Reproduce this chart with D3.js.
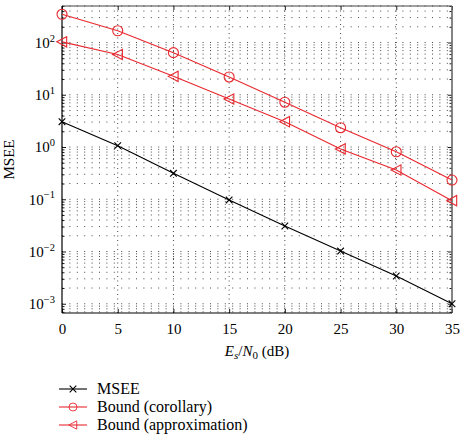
<!DOCTYPE html>
<html>
<head>
<meta charset="utf-8">
<script src="https://cdn.jsdelivr.net/npm/d3@7"></script>
<style>
  html, body { margin: 0; padding: 0; background: #fff; }
  svg { display: block; font-family: "Liberation Serif", "DejaVu Serif", serif; }
</style>
</head>
<body>
<svg id="chart" width="460" height="434"></svg>
<script>
// ---- data ----
const snrDb = [0, 5, 10, 15, 20, 25, 30, 35];
const mseeValues = [3.05, 1.06, 0.314, 0.097, 0.0308, 0.0102, 0.0034, 0.00100];
const corollaryValues = [347, 168, 64, 21.9, 7.2, 2.34, 0.81, 0.233];
const approxValues = [103, 59, 22.5, 8.3, 3.05, 0.92, 0.363, 0.094];
const xTickValues = [0, 5, 10, 15, 20, 25, 30, 35];
const yDecadeExponents = [-3, -2, -1, 0, 1, 2];
const yDomain = [6.65e-4, 500];
const seriesNames = ["MSEE", "Bound (corollary)", "Bound (approximation)"];

// ---- layout ----
const plot = { left: 62, right: 452, top: 6, bottom: 313 };
const svg = d3.select("#chart");
const x = d3.scaleLinear().domain([0, 35]).range([plot.left, plot.right]);
const y = d3.scaleLog().domain(yDomain).range([plot.bottom, plot.top]);

const RED = "#e8282e";

// ---- grid ----
const minorVals = [];
for (let e = -4; e <= 3; e++) for (let m = 1; m <= 9; m++) {
  const v = m * Math.pow(10, e);
  if (v >= yDomain[0] && v <= yDomain[1]) minorVals.push(v);
}
const grid = svg.append("g");
grid.selectAll("line.h").data(minorVals).join("line")
  .attr("x1", plot.left).attr("x2", plot.right)
  .attr("y1", d => y(d)).attr("y2", d => y(d))
  .attr("stroke", "#333").attr("stroke-width", 0.9)
  .attr("stroke-dasharray", "1 6.4");
grid.selectAll("line.v").data(xTickValues.filter(d => d > 0 && d < 35)).join("line")
  .attr("x1", d => x(d)).attr("x2", d => x(d))
  .attr("y1", plot.top).attr("y2", plot.bottom)
  .attr("stroke", "#333").attr("stroke-width", 0.9)
  .attr("stroke-dasharray", "1 3.5");

// ---- axes ----
const decadeVals = yDecadeExponents.map(e => Math.pow(10, e));
const minorOnly = minorVals.filter(v => !decadeVals.some(d => Math.abs(d - v) / d < 1e-9));

const xAxisB = svg.append("g").attr("transform", `translate(0,${plot.bottom})`)
  .call(d3.axisBottom(x).tickValues(xTickValues).tickSize(-4).tickPadding(10).tickFormat(d3.format("d")));
const xAxisT = svg.append("g").attr("transform", `translate(0,${plot.top})`)
  .call(d3.axisTop(x).tickValues(xTickValues).tickSize(-4).tickFormat(""));
const yAxisL = svg.append("g").attr("transform", `translate(${plot.left},0)`)
  .call(d3.axisLeft(y).tickValues(decadeVals).tickSize(-4).tickPadding(8).tickFormat(""));
const yAxisLm = svg.append("g").attr("transform", `translate(${plot.left},0)`)
  .call(d3.axisLeft(y).tickValues(minorOnly).tickSize(-2.5).tickFormat(""));
const yAxisR = svg.append("g").attr("transform", `translate(${plot.right},0)`)
  .call(d3.axisRight(y).tickValues(decadeVals).tickSize(-4).tickFormat(""));
const yAxisRm = svg.append("g").attr("transform", `translate(${plot.right},0)`)
  .call(d3.axisRight(y).tickValues(minorOnly).tickSize(-2.5).tickFormat(""));

[xAxisB, xAxisT, yAxisL, yAxisLm, yAxisR, yAxisRm].forEach(g => {
  g.select(".domain").remove();
  g.selectAll(".tick line").attr("stroke", "#000").attr("stroke-width", 0.9);
});
xAxisB.selectAll(".tick text").attr("font-size", 15).attr("fill", "#000")
  .attr("font-family", "Liberation Serif, serif");

// y labels: 10^k
yAxisL.selectAll(".tick").each(function(d) {
  const e = Math.round(Math.log10(d));
  const t = d3.select(this).select("text")
    .attr("x", -7).attr("dy", "0.33em").attr("text-anchor", "end")
    .attr("font-size", 15).attr("fill", "#000")
    .attr("font-family", "Liberation Serif, serif");
  t.text(null);
  t.append("tspan").text("10");
  t.append("tspan").attr("font-size", 10.5).attr("dy", "-0.6em")
    .text(e < 0 ? "\u2212" + (-e) : String(e));
});

// frame
svg.append("line").attr("x1", plot.left).attr("x2", plot.right).attr("y1", plot.top).attr("y2", plot.top)
  .attr("stroke", "#444").attr("stroke-width", 1.2);
svg.append("line").attr("x1", plot.right).attr("x2", plot.right).attr("y1", plot.top).attr("y2", plot.bottom)
  .attr("stroke", "#666").attr("stroke-width", 1.6);
svg.append("line").attr("x1", plot.left).attr("x2", plot.right).attr("y1", plot.bottom).attr("y2", plot.bottom)
  .attr("stroke", "#000").attr("stroke-width", 1.2);
svg.append("line").attr("x1", plot.left).attr("x2", plot.left).attr("y1", plot.top).attr("y2", plot.bottom)
  .attr("stroke", "#000").attr("stroke-width", 1.2);

// ---- series ----
const line = d3.line().x((d, i) => x(snrDb[i])).y(d => y(d));
const series = [
  { name: seriesNames[0], values: mseeValues, color: "#000", marker: "x" },
  { name: seriesNames[1], values: corollaryValues, color: RED, marker: "o" },
  { name: seriesNames[2], values: approxValues, color: RED, marker: "<" },
];

function drawMarker(g, type, cx, cy, color) {
  if (type === "x") {
    const s = 3.3;
    g.append("path").attr("d", `M${cx - s},${cy - s}L${cx + s},${cy + s}M${cx - s},${cy + s}L${cx + s},${cy - s}`)
      .attr("stroke", color).attr("stroke-width", 1.1).attr("fill", "none");
  } else if (type === "o") {
    g.append("circle").attr("cx", cx).attr("cy", cy).attr("r", 5)
      .attr("stroke", color).attr("stroke-width", 1.1).attr("fill", "none");
  } else {
    const s = 5.2;
    g.append("path").attr("d", `M${cx - s},${cy}L${cx + s * 0.9},${cy - s}L${cx + s * 0.9},${cy + s}Z`)
      .attr("stroke", color).attr("stroke-width", 1.1).attr("fill", "none");
  }
}

const sg = svg.append("g");
series.forEach(s => {
  sg.append("path").datum(s.values).attr("d", line)
    .attr("fill", "none").attr("stroke", s.color).attr("stroke-width", 1.1);
  s.values.forEach((v, i) => drawMarker(sg, s.marker, x(snrDb[i]), y(v), s.color));
});

// ---- axis titles ----
svg.append("text").attr("transform", `translate(14,${(plot.top + plot.bottom) / 2}) rotate(-90)`)
  .attr("text-anchor", "middle").attr("font-size", 15).attr("fill", "#000").text("MSEE");

const xt = svg.append("text").attr("x", (plot.left + plot.right) / 2).attr("y", 356)
  .attr("text-anchor", "middle").attr("font-size", 15).attr("fill", "#000");
xt.append("tspan").attr("font-style", "italic").text("E");
xt.append("tspan").attr("font-style", "italic").attr("font-size", 11).attr("dy", 3).text("s");
xt.append("tspan").attr("dy", -3).text("/");
xt.append("tspan").attr("font-style", "italic").text("N");
xt.append("tspan").attr("font-size", 11).attr("dy", 3).text("0");
xt.append("tspan").attr("dy", -3).text("\u00a0(dB)");

// ---- legend ----
const legendY = [389, 407, 425];
const lg = svg.append("g");
series.forEach((s, i) => {
  lg.append("line").attr("x1", 59).attr("x2", 87).attr("y1", legendY[i]).attr("y2", legendY[i])
    .attr("stroke", s.color).attr("stroke-width", 1.1);
  const m = lg.append("g");
  drawMarker(m, s.marker, 73, legendY[i], s.color);
  if (s.marker !== "x") m.attr("transform", `translate(73,${legendY[i]}) scale(0.8) translate(-73,${-legendY[i]})`);
  lg.append("text").attr("x", 97).attr("y", legendY[i]).attr("dy", "0.33em")
    .attr("font-size", 16).attr("fill", "#000").text(s.name);
});
</script>
</body>
</html>
